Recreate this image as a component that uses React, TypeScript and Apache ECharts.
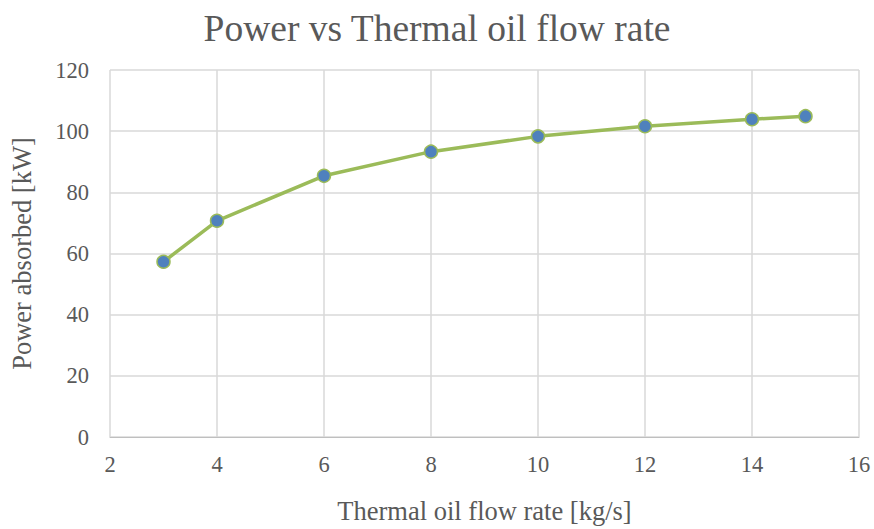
import React, { useEffect, useRef } from "react";
import * as echarts from "echarts";

// Thermal oil flow rate [kg/s] and absorbed power [kW]
const flowRates = [3, 4, 6, 8, 10, 12, 14, 15];
const powerAbsorbed = [57.3, 70.7, 85.4, 93.3, 98.3, 101.6, 103.9, 104.9];

const FONT = "'Liberation Serif', 'Times New Roman', serif";
const TEXT = "#595959";

export default function App() {
  const ref = useRef<HTMLDivElement>(null);

  useEffect(() => {
    if (!ref.current) return;
    const chart = echarts.init(ref.current, undefined, { renderer: "svg" });
    chart.setOption({
      animation: false,
      backgroundColor: "#ffffff",
      title: {
        text: "Power vs Thermal oil flow rate",
        left: "center",
        top: 4,
        textStyle: { fontFamily: FONT, fontSize: 37.5, fontWeight: "normal", color: TEXT },
      },
      grid: { left: 102, right: 15, top: 70, bottom: 88, containLabel: false },
      xAxis: {
        type: "value",
        min: 2,
        max: 16,
        interval: 2,
        name: "Thermal oil flow rate [kg/s]",
        nameLocation: "middle",
        nameGap: 60,
        nameTextStyle: { fontFamily: FONT, fontSize: 26.5, color: TEXT },
        axisLine: { show: true, lineStyle: { color: "#bfbfbf", width: 1 } },
        axisTick: { show: false },
        axisLabel: { fontFamily: FONT, fontSize: 22.5, color: TEXT, margin: 16 },
        splitLine: { show: true, lineStyle: { color: "#d9d9d9", width: 1.5 } },
      },
      yAxis: {
        type: "value",
        min: 0,
        max: 120,
        interval: 20,
        name: "Power absorbed [kW]",
        nameLocation: "middle",
        nameGap: 75,
        nameTextStyle: { fontFamily: FONT, fontSize: 26.5, color: TEXT },
        axisLine: { show: false },
        axisTick: { show: false },
        axisLabel: { fontFamily: FONT, fontSize: 22.5, color: TEXT, margin: 21 },
        splitLine: { show: true, lineStyle: { color: "#d9d9d9", width: 1.5 } },
      },
      series: [
        {
          type: "line",
          data: flowRates.map((x, i) => [x, powerAbsorbed[i]]),
          symbol: "circle",
          symbolSize: 13,
          lineStyle: { color: "#9bbb59", width: 3.5 },
          itemStyle: { color: "#4f81bd", borderColor: "#9bbb59", borderWidth: 1.5 },
        },
      ],
    });
    return () => chart.dispose();
  }, []);

  return <div ref={ref} style={{ width: 874, height: 529, position: "absolute", left: 0, top: 0 }} />;
}
